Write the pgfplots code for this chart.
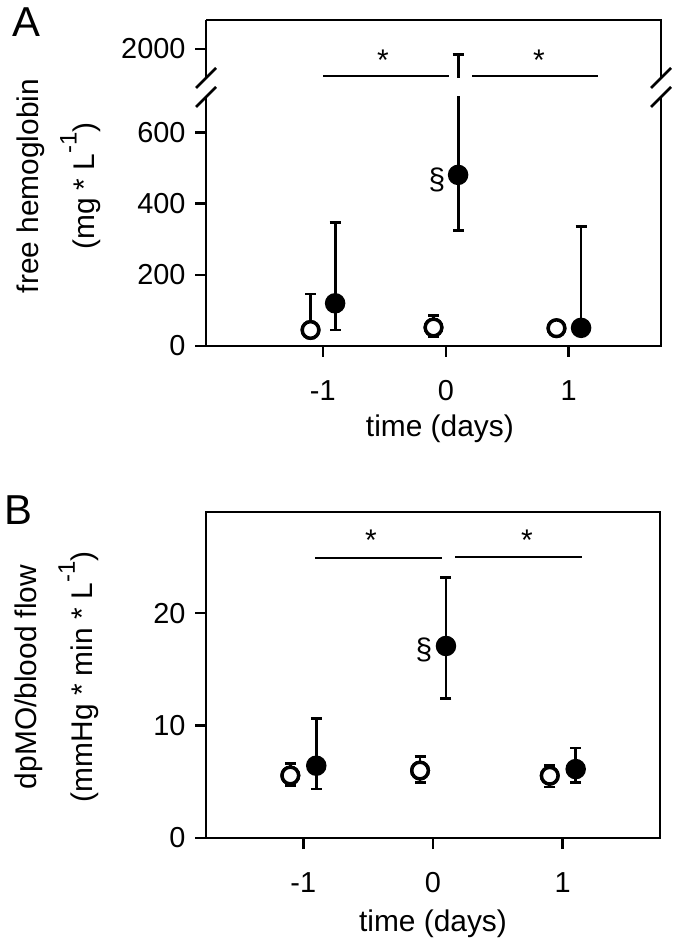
\documentclass[border=0pt]{standalone}
\usepackage{fontspec}
\setmainfont{Liberation Sans}
\usepackage{pgfplots}
\pgfplotsset{compat=1.18}
\usepackage{pgfplotstable}

\newcommand{\sups}[1]{\raisebox{0.6em}{\fontsize{24}{24}\selectfont #1}}

\pgfplotstableread{
x y ep em
-1.1 45 101 20
-0.1 52 33 25
0.9 50 10 10
}\Aopen
\pgfplotstableread{
x y ep em
-0.9 120 227 75
0.1 481 1459 156
1.1 51 284 15
}\Afilled
\pgfplotstableread{
x y ep em
-1.1 5.56 1.04 0.86
-0.1 6.00 1.26 1.03
0.9 5.54 0.90 1.01
}\Bopen
\pgfplotstableread{
x y ep em
-0.9 6.43 4.17 2.08
0.1 17.08 6.07 4.70
1.1 6.13 1.87 1.16
}\Bfilled

\pgfplotsset{
  myaxis/.style={
    scale only axis,
    /pgf/number format/assume math mode=true,
    /pgf/number format/1000 sep={},
    tick align=outside,
    major tick length=11bp,
    tick style={black, line width=2.6bp},
    axis line style={-, line width=2.6bp, black},
    tick label style={font=\fontsize{29}{29}\selectfont},
    xticklabel style={yshift=-20bp},
    yticklabel style={xshift=-6bp},
    label style={font=\fontsize{30}{56}\selectfont},
    clip=true,
    clip marker paths=true,
  },
  ebars/.style={
     error bars/.cd, y dir=both, y explicit,
     error bar style={line width=2.8bp, black},
     error mark options={line width=2.8bp, black, mark size=5.5bp, rotate=90}},
  openmk/.style={only marks, mark=*, mark size=8.3bp,
     mark options={draw=black, fill=white, line width=3.4bp}},
  filledmk/.style={only marks, mark=*, mark size=9.5bp,
     mark options={draw=black, fill=black, line width=1.5bp}},
}

\begin{document}
\begin{tikzpicture}[x=1bp, y=1bp]
\path[use as bounding box] (0,0) rectangle (679,949);

% ---------- Panel A, lower part ----------
\begin{axis}[myaxis, at={(206bp,603bp)}, anchor=south west,
  width=455bp, height=249bp,
  xmin=-1.95, xmax=1.75, ymin=0, ymax=700,
  axis x line*=bottom, axis y line*=left,
  xtick={-1,0,1}, ytick={0,200,400,600},
  xlabel={time (days)},
  xlabel style={at={(axis description cs:0.514,-0.365)}, anchor=base},
  ylabel={free hemoglobin\\(mg * L\sups{-1})},
  ylabel style={align=center, at={(axis description cs:-0.323,0.6426)}, anchor=center},
]
\addplot[openmk, ebars] table[x=x, y=y, y error plus=ep, y error minus=em] {\Aopen};
\addplot[openmk] table[x=x, y=y] {\Aopen};
\addplot[filledmk, ebars] table[x=x, y=y, y error plus=ep, y error minus=em] {\Afilled};
\end{axis}

% ---------- Panel A, upper part ----------
\begin{axis}[myaxis, at={(206bp,871bp)}, anchor=south west,
  width=455bp, height=58bp,
  xmin=-1.95, xmax=1.75, ymin=1700, ymax=2300,
  axis x line*=top, axis y line*=left,
  xtick=\empty, ytick={2000},
]
\addplot[filledmk, ebars] table[x=x, y=y, y error plus=ep, y error minus=em] {\Afilled};
\end{axis}

% right border and breaks of panel A
\draw[line width=2.6bp, line cap=rect] (661,603) -- (661,852);
\draw[line width=2.6bp, line cap=rect] (661,871) -- (661,929);
\foreach \xx in {206,661}{
  \draw[line width=2.6bp] (\xx-10,861) -- (\xx+10,881);
  \draw[line width=2.6bp] (\xx-10,842) -- (\xx+10,862);
}
% significance A
\draw[line width=2.6bp] (323,873) -- (449,873);
\draw[line width=2.6bp] (472,873) -- (598,873);
\node[font=\fontsize{30}{30}\selectfont] at (383,889) {*};
\node[font=\fontsize{30}{30}\selectfont] at (539,889) {*};
\node[font=\fontsize{30}{30}\selectfont] at (437,769) {\S};
\node[font=\fontsize{42}{42}\selectfont, anchor=base west, inner sep=0pt] at (12,912) {A};

% ---------- Panel B ----------
\begin{axis}[myaxis, at={(206bp,111bp)}, anchor=south west,
  width=454bp, height=326bp,
  xmin=-1.75, xmax=1.75, ymin=0, ymax=29,
  xtick={-1,0,1}, ytick={0,10,20},
  xtick pos=bottom, ytick pos=left,
  xlabel={time (days)},
  xlabel style={at={(axis description cs:0.5,-0.288)}, anchor=base},
  ylabel={dpMO/blood flow\\(mmHg * min * L\sups{-1})},
  ylabel style={align=center, at={(axis description cs:-0.328,0.494)}, anchor=center},
]
\addplot[openmk, ebars] table[x=x, y=y, y error plus=ep, y error minus=em] {\Bopen};
\addplot[openmk] table[x=x, y=y] {\Bopen};
\addplot[filledmk, ebars] table[x=x, y=y, y error plus=ep, y error minus=em] {\Bfilled};
\end{axis}

\draw[line width=2.6bp] (315,391) -- (442,391);
\draw[line width=2.6bp] (455,392) -- (582,392);
\node[font=\fontsize{30}{30}\selectfont] at (371,409) {*};
\node[font=\fontsize{30}{30}\selectfont] at (527,409) {*};
\node[font=\fontsize{30}{30}\selectfont] at (424,299) {\S};
\node[font=\fontsize{42}{42}\selectfont, anchor=base west, inner sep=0pt] at (4,424) {B};
\end{tikzpicture}
\end{document}
